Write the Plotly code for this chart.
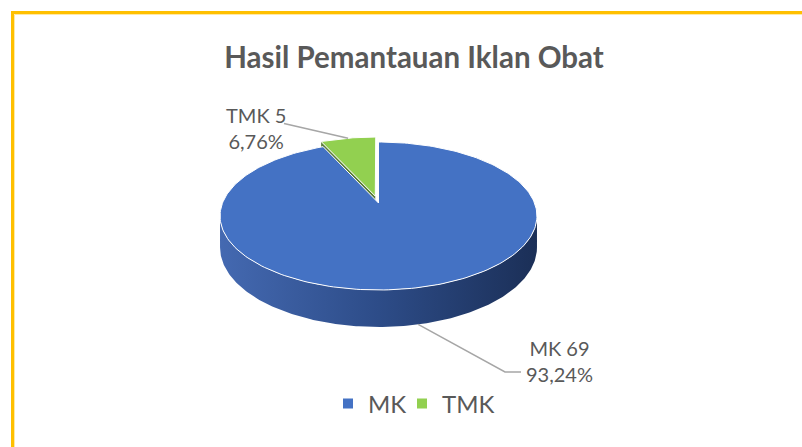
import numpy as np
import plotly.graph_objects as go

# --- data -------------------------------------------------------------
categories = ["MK", "TMK"]
counts = [69, 5]
slice_colors = ["#4472C4", "#92D050"]
chart_title = "Hasil Pemantauan Iklan Obat"

# --- canvas / look ----------------------------------------------------
W, H = 802, 447
TEXT = "#595959"
FONT = "Lato"

# tilted disc drawn with a light perspective
CX, CY = 378.5, 203.0      # projected centre of the top face
RX, RY = 156.0, 71.7       # radii of the top face
PERSP = 0.1757             # perspective strength (far side shrinks)
DEPTH = 30.5               # thickness of the disc
EXPLODE = [0.0, 0.10]      # per-slice pull-out, as a fraction of radius
SIDE_SCALE = [[0.0, "#4469B1"], [0.5, "#2D4C88"], [1.0, "#1B2F57"]]
WALL_COLOR = "#5C7F3B"


def project(theta, r=1.0, drop=0.0, shift=(0.0, 0.0)):
    """Angle measured clockwise from the far side of the disc."""
    theta = np.asarray(theta, dtype=float)
    u = r * np.sin(theta) + shift[0]
    v = r * np.cos(theta) + shift[1]
    s = 1.0 / (1.0 + PERSP * v)
    return CX + RX * u * s, CY - RY * v * s + DEPTH * drop * s


total = float(sum(counts))
fracs = [c / total for c in counts]
bounds = np.concatenate([[0.0], np.cumsum(fracs)]) * 2 * np.pi
mids = (bounds[:-1] + bounds[1:]) / 2
shifts = [(e * np.sin(m), e * np.cos(m)) for e, m in zip(EXPLODE, mids)]
pct_labels = [f"{100 * f:.2f}".replace(".", ",") + "%" for f in fracs]

fig = go.Figure()

# outer side of the disc: only the part facing the viewer
t_left = np.arccos(-PERSP)
t_right = 2 * np.pi - t_left
for i in range(len(counts)):
    lo, hi = max(bounds[i], t_left), min(bounds[i + 1], t_right)
    if lo >= hi:
        continue
    t = np.linspace(lo, hi, 200)
    xt, yt = project(t, shift=shifts[i])
    xb, yb = project(t[::-1], drop=1.0, shift=shifts[i])
    fig.add_trace(go.Scatter(
        x=np.concatenate([xt, xb, xt[:1]]), y=np.concatenate([yt, yb, yt[:1]]),
        mode="lines", fill="toself", line=dict(width=0),
        fillgradient=dict(type="horizontal", colorscale=SIDE_SCALE),
        hoverinfo="skip", showlegend=False))

# cut face of a pulled-out slice, seen through the gap
for i in range(len(counts)):
    if EXPLODE[i] <= 0:
        continue
    a = bounds[i]
    cx0, cy0 = project(a, r=0.0, shift=shifts[i])
    rx0, ry0 = project(a, shift=shifts[i])
    rx1, ry1 = project(a, drop=1.0, shift=shifts[i])
    cx1, cy1 = project(a, r=0.0, drop=1.0, shift=shifts[i])
    fig.add_trace(go.Scatter(
        x=[cx0, rx0, rx1, cx1, cx0], y=[cy0, ry0, ry1, cy1, cy0],
        mode="lines", fill="toself", fillcolor=WALL_COLOR,
        line=dict(width=0), hoverinfo="skip", showlegend=False))

# top faces
for i in range(len(counts)):
    t = np.linspace(bounds[i], bounds[i + 1], 240)
    xa, ya = project(t, shift=shifts[i])
    xc, yc = project(0.0, r=0.0, shift=shifts[i])
    fig.add_trace(go.Scatter(
        x=np.concatenate([[xc], xa, [xc]]), y=np.concatenate([[yc], ya, [yc]]),
        mode="lines", fill="toself", fillcolor=slice_colors[i],
        line=dict(color="white", width=1), hoverinfo="skip", showlegend=False))

# data labels with leader lines
LEADER = dict(color="#A6A6A6", width=1.5)
# TMK: label upper-left, line to the rim of its top face
ax, ay = project(mids[1], shift=shifts[1])
fig.add_trace(go.Scatter(x=[284, float(ax)], y=[123.5, float(ay)], mode="lines",
                         line=LEADER, hoverinfo="skip", showlegend=False))
fig.add_annotation(x=256, y=128, xref="x", yref="y", showarrow=False,
                   text=f"{categories[1]} {counts[1]}<br>{pct_labels[1]}",
                   font=dict(family=FONT, size=20, color=TEXT),
                   align="center", xanchor="center", yanchor="middle")
# MK: label lower-right, line from the bottom edge of the side
bx, by = project(mids[0], drop=1.0, shift=shifts[0])
fig.add_trace(go.Scatter(x=[float(bx), 505, 521], y=[float(by), 372, 372], mode="lines",
                         line=LEADER, hoverinfo="skip", showlegend=False))
fig.add_annotation(x=559.5, y=361, xref="x", yref="y", showarrow=False,
                   text=f"{categories[0]} {counts[0]}<br>{pct_labels[0]}",
                   font=dict(family=FONT, size=20, color=TEXT),
                   align="center", xanchor="center", yanchor="middle")

# legend entries (one legend box per category)
legend_names = ["legend", "legend2"]
for i, cat in enumerate(categories):
    fig.add_trace(go.Scatter(
        x=[None], y=[None], mode="markers", name=cat,
        marker=dict(symbol="square", size=10, color=slice_colors[i]),
        legend=legend_names[i], showlegend=True, hoverinfo="skip"))

legend_style = dict(orientation="h", font=dict(family=FONT, size=24, color=TEXT),
                    bgcolor="rgba(0,0,0,0)", borderwidth=0,
                    xanchor="left", yanchor="middle", yref="paper", xref="paper")

# frame
fig.add_shape(type="rect", xref="x", yref="y", x0=12.5, y0=12.5, x1=W + 20, y1=H + 20,
              line=dict(color="#FFC000", width=3), layer="below")
fig.add_shape(type="rect", xref="x", yref="y", x0=14.5, y0=14.5, x1=W + 20, y1=H + 20,
              line=dict(color="#FFE9A6", width=1), layer="below")

fig.update_layout(
    width=W, height=H, margin=dict(l=0, r=0, t=0, b=0),
    paper_bgcolor="white", plot_bgcolor="white",
    title=dict(text=f"<b>{chart_title}</b>", x=414 / W, xanchor="center",
               y=1 - 58 / H, yanchor="middle", yref="paper",
               font=dict(family=FONT, size=29.5, color=TEXT)),
    xaxis=dict(range=[0, W], visible=False, fixedrange=True),
    yaxis=dict(range=[H, 0], visible=False, fixedrange=True),
    legend=dict(x=328 / W, y=1 - 404 / H, **legend_style),
    legend2=dict(x=402 / W, y=1 - 404 / H, **legend_style),
    showlegend=True,
)

fig.write_html("out.html")
